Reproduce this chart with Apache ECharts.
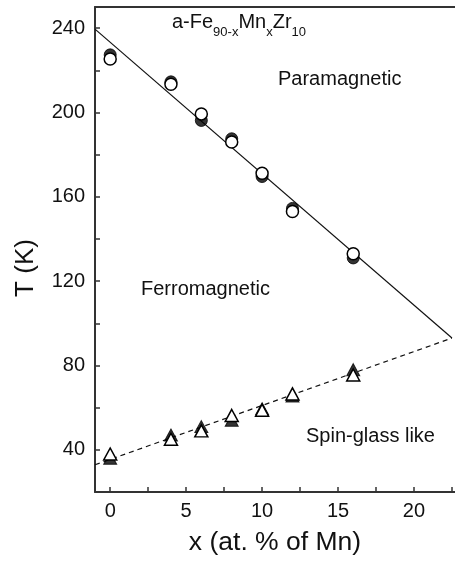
<!DOCTYPE html>
<html>
<head>
<meta charset="utf-8">
<script src="https://cdn.jsdelivr.net/npm/echarts@6/dist/echarts.min.js"></script>
<style>
  html, body { margin: 0; padding: 0; background: #fff; }
  #chart { width: 455px; height: 564px; }
</style>
</head>
<body>
<div id="chart"></div>
<script>
// x = at. % of Mn, T in K
var xCircles = [0, 4, 6, 8, 10, 12, 16];
var tcFilled = [227.3, 214.5, 196.2, 187.5, 169.6, 154.5, 131];
var tcOpen = [225.3, 213.4, 199.3, 186, 171.2, 153, 133];

var xTriangles = [0, 4, 6, 8, 10, 12, 16];
var tfFilled = [36, 47, 51, 54, 59.5, 65.5, 78];
var tfOpen = [38, 45, 49, 56.3, 58.8, 66.5, 75.5];

// guide lines (fits through the data)
var tcLine = [[-1, 239.5], [22.5, 93]];
var tfLine = [[-1, 32.9], [22.5, 93]];

var xTicks = [0, 2.5, 5, 7.5, 10, 12.5, 15, 17.5, 20, 22.5];
var xLabels = [0, 5, 10, 15, 20];
var yTicks = [40, 60, 80, 100, 120, 140, 160, 180, 200, 220, 240];
var yLabels = [40, 80, 120, 160, 200, 240];

function pairs(xs, ys) {
    var out = [];
    for (var i = 0; i < xs.length; i++) out.push([xs[i], ys[i]]);
    return out;
}

var font = 'Liberation Sans, Arial, Helvetica, sans-serif';
var axisColor = '#333';

var chart = echarts.init(document.getElementById('chart'));
chart.setOption({
    animation: false,
    textStyle: { fontFamily: font },
    grid: { left: 95, right: 0, top: 7, bottom: 72, outerBoundsMode: 'none', containLabel: false },
    xAxis: [
        {
            type: 'value',
            min: -1,
            max: 22.7,
            axisLine: { show: true, onZero: false, lineStyle: { color: axisColor, width: 2 } },
            axisTick: { show: true, inside: true, length: 5, customValues: xTicks, lineStyle: { color: axisColor, width: 1.5 } },
            axisLabel: { customValues: xLabels, fontSize: 20, color: '#111', margin: 9, fontFamily: font },
            splitLine: { show: false },
            name: 'x (at. % of Mn)',
            nameLocation: 'middle',
            nameGap: 37,
            nameTextStyle: { fontSize: 26.5, color: '#111', fontFamily: font }
        },
        {
            type: 'value',
            position: 'top',
            min: -1,
            max: 22.7,
            axisLine: { show: true, onZero: false, lineStyle: { color: axisColor, width: 2 } },
            axisTick: { show: false },
            axisLabel: { show: false },
            splitLine: { show: false }
        }
    ],
    yAxis: {
        type: 'value',
        min: 20,
        max: 250,
        axisLine: { show: true, onZero: false, lineStyle: { color: axisColor, width: 2 } },
        axisTick: { show: true, inside: true, length: 5, customValues: yTicks, lineStyle: { color: axisColor, width: 1.5 } },
        axisLabel: { customValues: yLabels, fontSize: 20, color: '#111', margin: 10, fontFamily: font },
        splitLine: { show: false }
    },
    graphic: [
        {
            type: 'text',
            x: 25.5,
            y: 268,
            rotation: Math.PI / 2,
            style: { text: 'T (K)', font: '26px ' + font, fill: '#111', align: 'center', verticalAlign: 'middle' }
        },
        {
            type: 'text',
            x: 172,
            y: 5,
            style: {
                text: '{m|a-Fe}{s|90-x}{m|Mn}{s|x}{m|Zr}{s|10}',
                align: 'left',
                verticalAlign: 'top',
                rich: {
                    m: { fontSize: 20, fontFamily: font, fill: '#111', lineHeight: 34 },
                    s: { fontSize: 13, fontFamily: font, fill: '#111', lineHeight: 13, verticalAlign: 'bottom' }
                }
            }
        },
        {
            type: 'text',
            x: 278,
            y: 79,
            style: { text: 'Paramagnetic', font: '20px ' + font, fill: '#111', align: 'left', verticalAlign: 'middle' }
        },
        {
            type: 'text',
            x: 141,
            y: 289,
            style: { text: 'Ferromagnetic', font: '20px ' + font, fill: '#111', align: 'left', verticalAlign: 'middle' }
        },
        {
            type: 'text',
            x: 306,
            y: 436,
            style: { text: 'Spin-glass like', font: '20px ' + font, fill: '#111', align: 'left', verticalAlign: 'middle' }
        }
    ],
    series: [
        {
            type: 'line',
            data: tcLine,
            symbol: 'none',
            lineStyle: { color: '#111', width: 1.2 },
            z: 1
        },
        {
            type: 'line',
            data: tfLine,
            symbol: 'none',
            lineStyle: { color: '#111', width: 1.2, type: [5, 4] },
            z: 1
        },
        {
            type: 'scatter',
            data: pairs(xCircles, tcFilled),
            symbol: 'circle',
            symbolSize: 12,
            itemStyle: { color: '#000', borderColor: '#000', borderWidth: 1 },
            z: 2
        },
        {
            type: 'scatter',
            data: pairs(xCircles, tcOpen),
            symbol: 'circle',
            symbolSize: 12,
            itemStyle: { color: '#fff', borderColor: '#000', borderWidth: 1.5, opacity: 1 },
            z: 3
        },
        {
            type: 'scatter',
            data: pairs(xTriangles, tfFilled),
            symbol: 'triangle',
            symbolSize: [13, 12],
            itemStyle: { color: '#000', borderColor: '#000', borderWidth: 1 },
            z: 2
        },
        {
            type: 'scatter',
            data: pairs(xTriangles, tfOpen),
            symbol: 'triangle',
            symbolSize: [13, 12],
            itemStyle: { color: '#fff', borderColor: '#000', borderWidth: 1.5, opacity: 1 },
            z: 3
        }
    ]
});
</script>
</body>
</html>
